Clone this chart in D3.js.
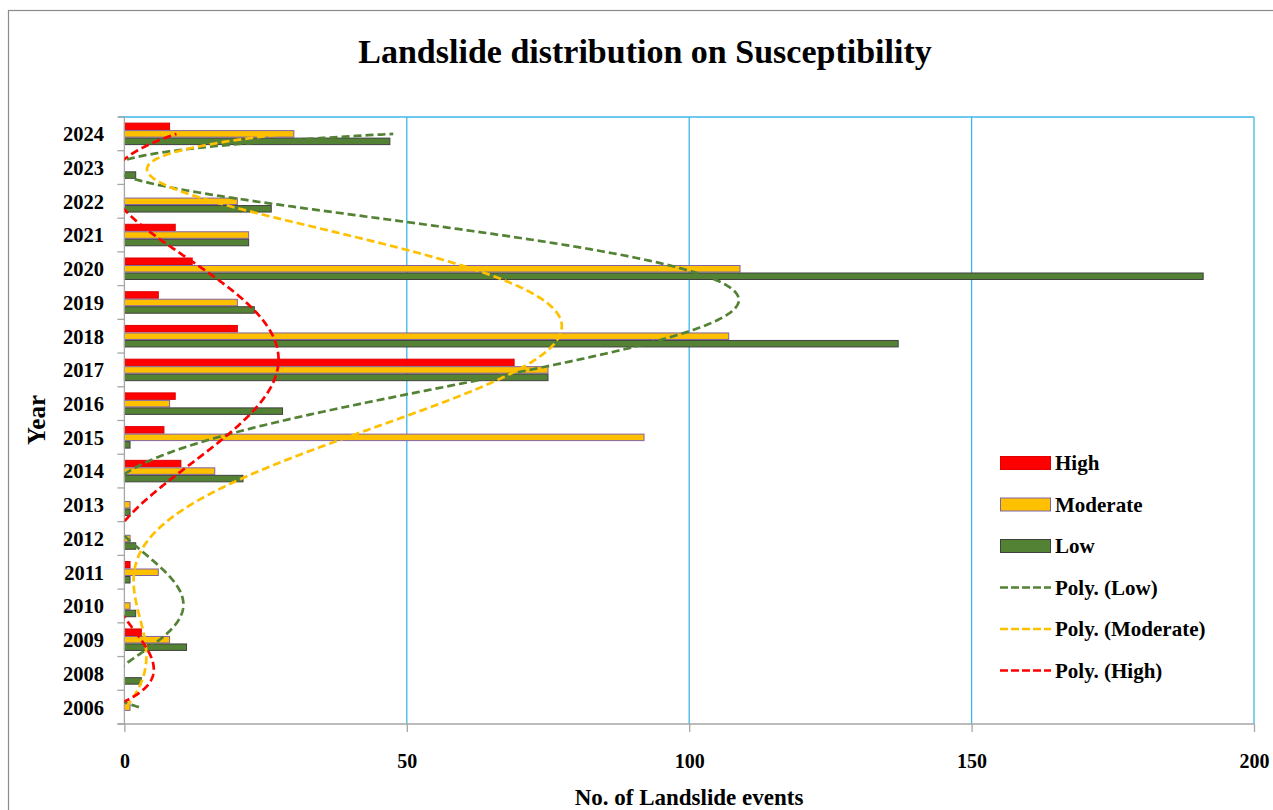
<!DOCTYPE html>
<html>
<head>
<meta charset="utf-8">
<script src="https://cdn.jsdelivr.net/npm/d3@7"></script>
<style>
  html, body { margin: 0; padding: 0; background: #ffffff; }
  svg { display: block; }
  text { font-family: "Liberation Serif", "Times New Roman", serif; font-weight: bold; fill: #000; }
</style>
</head>
<body>
<svg id="chart" width="1273" height="810"></svg>
<script>
// Landslide counts per year, by susceptibility class
const years = ["2006","2008","2009","2010","2011","2012","2013","2014","2015","2016",
               "2017","2018","2019","2020","2021","2022","2023","2024"];
const high     = [0, 0, 3, 0, 1, 0, 0, 10, 7, 9, 69, 20, 6, 12, 9, 0, 0, 8];
const moderate = [1, 0, 8, 1, 6, 1, 1, 16, 92, 8, 75, 107, 20, 109, 22, 20, 0, 30];
const low      = [0, 3, 11, 2, 1, 2, 1, 21, 1, 28, 75, 137, 23, 191, 22, 26, 2, 47];
const xTicks   = [0, 50, 100, 150, 200];

const seriesNames = ["High", "Moderate", "Low"];
const seriesValues = { High: high, Moderate: moderate, Low: low };
const fills   = { High: "#ff0000", Moderate: "#ffc000", Low: "#548235" };
const borders = { High: "#e00000", Moderate: "#8064a2", Low: "#404040" };
const trendOrder = ["Low", "Moderate", "High"];

const svg = d3.select("#chart");
const plot = { left: 124.4, right: 1254, top: 117, bottom: 724 };

// outer chart frame
svg.append("rect")
  .attr("x", 8.5).attr("y", 10.5).attr("width", 1300).attr("height", 900)
  .attr("fill", "none").attr("stroke", "#8c8c8c").attr("stroke-width", 1.2);

const x = d3.scaleLinear().domain([0, 200]).range([plot.left, plot.right]);
const y = d3.scaleBand().domain(years.slice().reverse())
  .range([plot.top, plot.bottom]).paddingInner(0.333).paddingOuter(0.1665);
const ySub = d3.scaleBand().domain(seriesNames).range([0, y.bandwidth()]);

// vertical gridlines
svg.append("g").selectAll("line").data(xTicks.filter(d => d > 0)).join("line")
  .attr("x1", d => x(d)).attr("x2", d => x(d))
  .attr("y1", plot.top).attr("y2", plot.bottom)
  .attr("stroke", "#3cb8e8").attr("stroke-width", 1.3);
// plot area top edge
svg.append("line")
  .attr("x1", plot.left - 6).attr("x2", plot.right)
  .attr("y1", plot.top).attr("y2", plot.top)
  .attr("stroke", "#3cb8e8").attr("stroke-width", 1.3);

// bars
const groups = svg.append("g").selectAll("g").data(years).join("g")
  .attr("transform", d => `translate(0,${y(d)})`);
groups.selectAll("rect")
  .data((yr, i) => seriesNames.map(s => ({ s, v: seriesValues[s][i] })))
  .join("rect")
  .filter(d => d.v > 0)
  .attr("x", x(0))
  .attr("y", d => ySub(d.s) + 0.5)
  .attr("width", d => x(d.v) - x(0))
  .attr("height", ySub.bandwidth() - 1)
  .attr("fill", d => fills[d.s])
  .attr("stroke", d => borders[d.s])
  .attr("stroke-width", 1);

// axes
const axisColor = "#a6a6a6";
const xAxis = svg.append("g").attr("transform", `translate(0,${plot.bottom})`)
  .call(d3.axisBottom(x).tickValues(xTicks).tickSize(8).tickPadding(22).tickFormat(d3.format("d")));
xAxis.select(".domain").remove();
xAxis.selectAll(".tick line").attr("stroke", axisColor).attr("stroke-width", 1.3);
xAxis.selectAll(".tick text").attr("font-size", 20).attr("font-family", null).attr("fill", "#000");
svg.append("line")
  .attr("x1", plot.left - 7).attr("x2", plot.right)
  .attr("y1", plot.bottom).attr("y2", plot.bottom)
  .attr("stroke", axisColor).attr("stroke-width", 1.3);

// category axis: line, boundary ticks, year labels
svg.append("line")
  .attr("x1", plot.left).attr("x2", plot.left)
  .attr("y1", plot.top).attr("y2", plot.bottom)
  .attr("stroke", axisColor).attr("stroke-width", 1.3);
const boundaries = d3.range(years.length + 1).map(i => plot.top + i * y.step());
svg.append("g").selectAll("line").data(boundaries).join("line")
  .attr("x1", plot.left - 7).attr("x2", plot.left)
  .attr("y1", d => d).attr("y2", d => d)
  .attr("stroke", axisColor).attr("stroke-width", 1.3);
svg.append("g").selectAll("text").data(years).join("text")
  .attr("x", 104)
  .attr("y", d => y(d) + y.bandwidth() / 2)
  .attr("dy", "0.36em")
  .attr("text-anchor", "end")
  .attr("font-size", 20.5)
  .text(d => d);

// polynomial (order 6) least-squares trend of each series over the category index
function polyFit(vals, order) {
  const n = vals.length, c = (n - 1) / 2, s = (n - 1) / 2;
  const m = order + 1;
  const A = Array.from({ length: m }, () => new Array(m + 1).fill(0));
  vals.forEach((v, i) => {
    const t = (i - c) / s;
    const p = d3.range(m).map(k => Math.pow(t, k));
    for (let r = 0; r < m; r++) {
      for (let q = 0; q < m; q++) A[r][q] += p[r] * p[q];
      A[r][m] += p[r] * v;
    }
  });
  for (let col = 0; col < m; col++) {
    let piv = col;
    for (let r = col + 1; r < m; r++) if (Math.abs(A[r][col]) > Math.abs(A[piv][col])) piv = r;
    [A[col], A[piv]] = [A[piv], A[col]];
    for (let r = 0; r < m; r++) {
      if (r === col) continue;
      const f = A[r][col] / A[col][col];
      for (let q = col; q <= m; q++) A[r][q] -= f * A[col][q];
    }
  }
  const coef = A.map((row, i) => row[m] / row[i]);
  return u => { const t = (u - c) / s; return coef.reduce((acc, a, k) => acc + a * Math.pow(t, k), 0); };
}

svg.append("clipPath").attr("id", "plotClip").append("rect")
  .attr("x", plot.left).attr("y", plot.top)
  .attr("width", plot.right - plot.left).attr("height", plot.bottom - plot.top);

const yCenter0 = y(years[0]) + y.bandwidth() / 2;
const yAt = u => yCenter0 - u * y.step();
const samples = d3.range(0, years.length - 1 + 1e-9, 0.02);
const trendG = svg.append("g").attr("clip-path", "url(#plotClip)");
trendOrder.forEach(s => {
  const f = polyFit(seriesValues[s], 6);
  trendG.append("path")
    .datum(samples)
    .attr("d", d3.line().x(u => x(f(u))).y(u => yAt(u)))
    .attr("fill", "none")
    .attr("stroke", fills[s])
    .attr("stroke-width", 2.7)
    .attr("stroke-dasharray", "8,4");
});

// title and axis titles
svg.append("text")
  .attr("x", 645).attr("y", 63)
  .attr("text-anchor", "middle")
  .attr("font-size", 34)
  .text("Landslide distribution on Susceptibility");
svg.append("text")
  .attr("x", 689).attr("y", 805)
  .attr("text-anchor", "middle")
  .attr("font-size", 23)
  .text("No. of Landslide events");
svg.append("text")
  .attr("transform", "translate(45,420) rotate(-90)")
  .attr("text-anchor", "middle")
  .attr("font-size", 25)
  .text("Year");

// legend
const legendItems = [
  { label: "High", key: "High", type: "bar" },
  { label: "Moderate", key: "Moderate", type: "bar" },
  { label: "Low", key: "Low", type: "bar" },
  { label: "Poly. (Low)", key: "Low", type: "line" },
  { label: "Poly. (Moderate)", key: "Moderate", type: "line" },
  { label: "Poly. (High)", key: "High", type: "line" }
];
const lg = svg.append("g").selectAll("g").data(legendItems).join("g")
  .attr("transform", (d, i) => `translate(1000,${463 + i * 41.5})`);
lg.filter(d => d.type === "bar").append("rect")
  .attr("x", 0.5).attr("y", -6.5).attr("width", 50).attr("height", 13)
  .attr("fill", d => fills[d.key]).attr("stroke", d => borders[d.key]).attr("stroke-width", 1);
lg.filter(d => d.type === "line").append("line")
  .attr("x1", 0).attr("x2", 51).attr("y1", 0).attr("y2", 0)
  .attr("stroke", d => fills[d.key]).attr("stroke-width", 2.7).attr("stroke-dasharray", "8,3");
lg.append("text")
  .attr("x", 55).attr("dy", "0.35em")
  .attr("font-size", 21)
  .text(d => d.label);
</script>
</body>
</html>
